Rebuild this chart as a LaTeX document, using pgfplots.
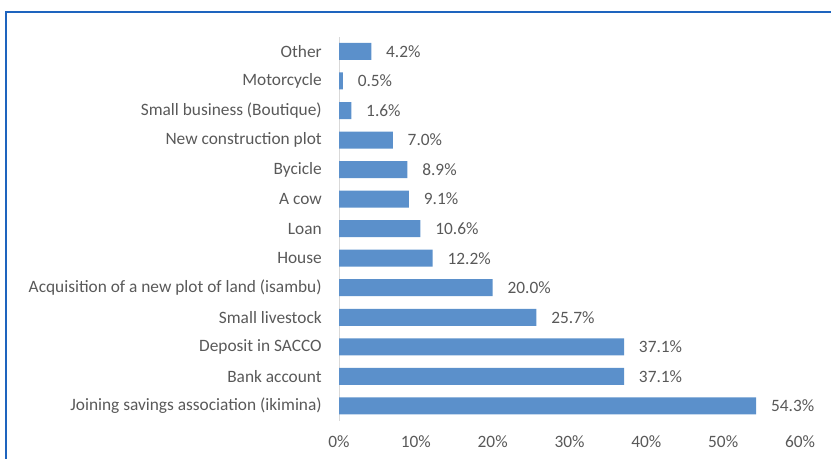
\documentclass[border=0pt]{standalone}
\usepackage{pgfplots}
\pgfplotsset{compat=1.18}
\usepackage{fontspec}
\setmainfont{Carlito}
\definecolor{barblue}{RGB}{91,144,203}
\definecolor{framblue}{RGB}{30,100,190}
\definecolor{txtgray}{RGB}{89,89,89}
\definecolor{axgray}{RGB}{217,217,217}
\begin{document}
\begin{tikzpicture}
\useasboundingbox (0,0) rectangle (623.25pt,343.5pt);
\draw[framblue, line width=1.5pt] (4.5pt,-2pt) -- (4.5pt,334.5pt) -- (626pt,334.5pt);
\begin{axis}[
  at={(254.25pt,28pt)}, anchor=south west,
  scale only axis,
  width=345.75pt, height=288pt,
  xmin=0, xmax=60, ymin=-0.5, ymax=12.5,
  xbar, bar width=12.75pt,
  axis x line=none,
  axis y line*=left,
  y axis line style={axgray, line width=0.75pt, -},
  ytick=data, major tick length=0pt,
  yticklabels={Joining savings association (ikimina),Bank account,Deposit in SACCO,Small livestock,Acquisition of a new plot of land (isambu),House,Loan,A cow,Bycicle,New construction plot,Small business (Boutique),Motorcycle,Other},
  yticklabel style={font=\fontsize{13}{15}\selectfont, text=txtgray, anchor=east, xshift=-12.75pt, inner sep=0pt},
  clip=false,
  /pgf/number format/assume math mode=true,
  nodes near coords={\pgfmathprintnumber[fixed,fixed zerofill,precision=1,assume math mode=true]{\pgfplotspointmeta}\%},
  nodes near coords style={font=\fontsize{13}{15}\selectfont, text=txtgray, anchor=west, inner sep=0pt, xshift=11pt},
  point meta=explicit,
]
\addplot[fill=barblue, draw=none] coordinates {
(54.3,0) [54.3]
(37.1,1) [37.1]
(37.1,2) [37.1]
(25.7,3) [25.7]
(20.0,4) [20.0]
(12.2,5) [12.2]
(10.6,6) [10.6]
(9.1,7) [9.1]
(8.9,8) [8.9]
(7.0,9) [7.0]
(1.6,10) [1.6]
(0.5,11) [0.5]
(4.2,12) [4.2]
};
\pgfplotsinvokeforeach{0,10,20,30,40,50,60}{
  \node[font=\fontsize{13}{15}\selectfont, text=txtgray, anchor=center] at (axis cs:#1,-0.5) [yshift=-16pt] {#1\%};
}
\end{axis}
\end{tikzpicture}
\end{document}
